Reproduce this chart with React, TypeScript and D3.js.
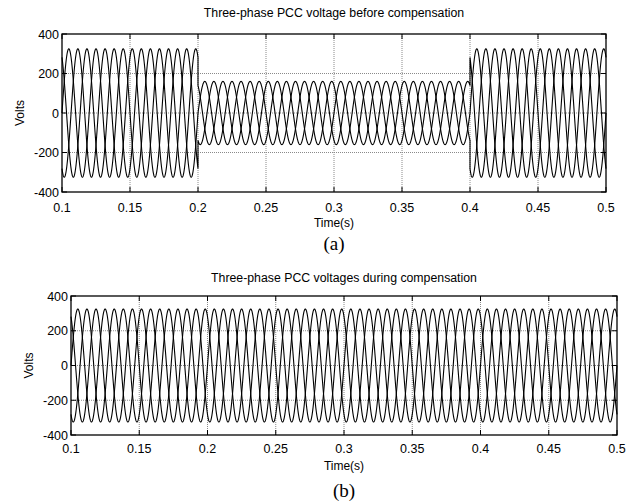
import React from "react";
import * as d3 from "d3";

// ---- data ----
const FREQ_HZ = 50;
const PHASE_SHIFTS_DEG = [0, -120, 120];
// panel (a): sag between 0.2 s and 0.4 s
const SEG_A_START = [0.1, 0.2, 0.4];
const SEG_A_END = [0.2, 0.4, 0.5];
const SEG_A_AMP = [325, 160, 325];
// panel (b): compensated
const SEG_B_START = [0.1];
const SEG_B_END = [0.5];
const SEG_B_AMP = [325];

const X_TICKS = [0.1, 0.15, 0.2, 0.25, 0.3, 0.35, 0.4, 0.45, 0.5];
const X_TICK_LABELS = ["0.1", "0.15", "0.2", "0.25", "0.3", "0.35", "0.4", "0.45", "0.5"];
const Y_TICKS = [-400, -200, 0, 200, 400];
const Y_TICK_LABELS = ["-400", "-200", "0", "200", "400"];

const TITLE_A = "Three-phase PCC voltage before compensation";
const TITLE_B = "Three-phase PCC voltages during compensation";

const DT = 0.00005;

function buildPhase(starts: number[], ends: number[], amps: number[], shiftDeg: number) {
  const pts: [number, number][] = [];
  for (let s = 0; s < starts.length; s++) {
    const n = Math.round((ends[s] - starts[s]) / DT);
    for (let i = 0; i <= n; i++) {
      const t = starts[s] + i * DT;
      const v = amps[s] * Math.sin(2 * Math.PI * FREQ_HZ * t + (shiftDeg * Math.PI) / 180);
      pts.push([t, v]);
    }
  }
  return pts;
}

type PanelProps = {
  left: number; right: number; top: number; bottom: number;
  title: string; titleY: number; voltsX: number; xLabelY: number; timeY: number;
  captionY: number; caption: string;
  starts: number[]; ends: number[]; amps: number[];
};

function Panel(p: PanelProps) {
  const x = d3.scaleLinear().domain([0.1, 0.5]).range([p.left, p.right]);
  const y = d3.scaleLinear().domain([-400, 400]).range([p.bottom, p.top]);
  const line = d3.line<[number, number]>().x((d) => x(d[0])).y((d) => y(d[1]));
  const font = "'Liberation Sans', Arial, sans-serif";
  const tl = 5;
  const cx = (p.left + p.right) / 2;
  return (
    <g>
      {/* grid */}
      {X_TICKS.slice(1, -1).map((t) => (
        <line key={"gx" + t} x1={x(t)} x2={x(t)} y1={p.top} y2={p.bottom} stroke="#8a8a8a" strokeWidth={1} strokeDasharray="1 1" />
      ))}
      {Y_TICKS.slice(1, -1).map((t) => (
        <line key={"gy" + t} x1={p.left} x2={p.right} y1={y(t)} y2={y(t)} stroke="#8a8a8a" strokeWidth={1} strokeDasharray="1 1" />
      ))}
      {/* waveforms */}
      {PHASE_SHIFTS_DEG.map((sh, i) => (
        <path key={"ph" + i} d={line(buildPhase(p.starts, p.ends, p.amps, sh)) || ""} fill="none" stroke="#000" strokeWidth={1.1} />
      ))}
      {/* box */}
      <rect x={p.left} y={p.top} width={p.right - p.left} height={p.bottom - p.top} fill="none" stroke="#000" strokeWidth={1.3} />
      {/* ticks */}
      {X_TICKS.map((t) => (
        <g key={"tx" + t}>
          <line x1={x(t)} x2={x(t)} y1={p.bottom} y2={p.bottom - tl} stroke="#000" />
          <line x1={x(t)} x2={x(t)} y1={p.top} y2={p.top + tl} stroke="#000" />
        </g>
      ))}
      {Y_TICKS.map((t) => (
        <g key={"ty" + t}>
          <line x1={p.left} x2={p.left + tl} y1={y(t)} y2={y(t)} stroke="#000" />
          <line x1={p.right} x2={p.right - tl} y1={y(t)} y2={y(t)} stroke="#000" />
        </g>
      ))}
      {/* tick labels */}
      {X_TICKS.map((t, i) => (
        <text key={"lx" + t} x={x(t)} y={p.xLabelY} fontFamily={font} fontSize={12.5} textAnchor="middle">{X_TICK_LABELS[i]}</text>
      ))}
      {Y_TICKS.map((t, i) => (
        <text key={"ly" + t} x={p.left - 3} y={y(t) + 4.5} fontFamily={font} fontSize={12.5} textAnchor="end">{Y_TICK_LABELS[i]}</text>
      ))}
      <text x={cx} y={p.titleY} fontFamily={font} fontSize={12.3} textAnchor="middle">{p.title}</text>
      <text x={cx} y={p.timeY} fontFamily={font} fontSize={12} textAnchor="middle">Time(s)</text>
      <text transform={`translate(${p.voltsX},${(p.top + p.bottom) / 2}) rotate(-90)`} fontFamily={font} fontSize={12} textAnchor="middle">Volts</text>
      <text x={cx} y={p.captionY} fontFamily="'Liberation Serif', 'Times New Roman', serif" fontSize={19} textAnchor="middle">{p.caption}</text>
    </g>
  );
}

export default function App() {
  return (
    <svg width={633} height={504} style={{ position: "absolute", left: 0, top: 0, background: "#fff" }}>
      <rect x={0} y={0} width={633} height={504} fill="#fff" />
      <Panel left={62} right={606} top={34} bottom={192} title={TITLE_A} titleY={17} voltsX={24}
        xLabelY={212} timeY={227} captionY={250} caption="(a)"
        starts={SEG_A_START} ends={SEG_A_END} amps={SEG_A_AMP} />
      <Panel left={71} right={617} top={296} bottom={435} title={TITLE_B} titleY={282} voltsX={33}
        xLabelY={453} timeY={470} captionY={497} caption="(b)"
        starts={SEG_B_START} ends={SEG_B_END} amps={SEG_B_AMP} />
    </svg>
  );
}
